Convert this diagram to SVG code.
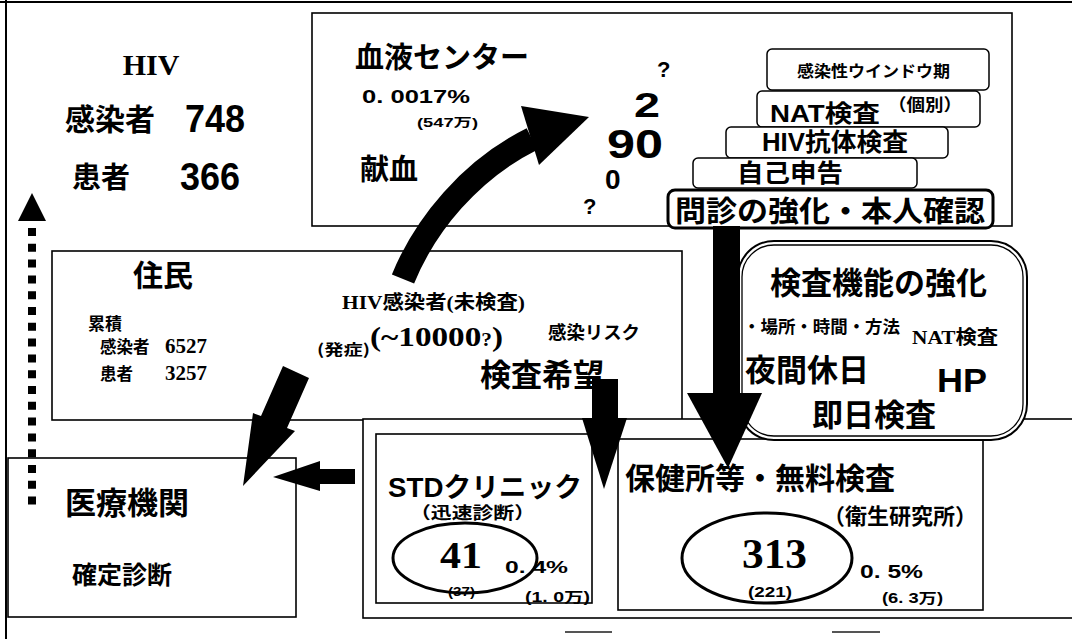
<svg xmlns="http://www.w3.org/2000/svg" width="1072" height="639" viewBox="0 0 1072 639">
<style>
.box{fill:#fff;stroke:#000;stroke-width:1.6}
.rbox{fill:#fff;stroke:#000;stroke-width:1.5}
.j{font-family:"Noto Sans CJK JP","Noto Sans CJK SC",sans-serif;font-weight:bold;fill:#000}
.s{font-family:"Liberation Sans","Noto Sans CJK JP",sans-serif;font-weight:bold;fill:#000}
.r{font-family:"Liberation Serif","Noto Sans CJK JP",serif;font-weight:bold;fill:#000}
.arw{fill:#000;stroke:none}
</style>
<rect x="0" y="0" width="1072" height="639" fill="#fff"/>
<g id="frame" stroke="#000" stroke-width="2">
<line x1="0" y1="2" x2="1072" y2="2"/>
<line x1="6" y1="0" x2="6" y2="639"/>
<line x1="565" y1="632" x2="612" y2="632" stroke="#555"/>
<line x1="832" y1="632" x2="880" y2="632" stroke="#555"/>
</g>

<g id="hiv-total">
<text class="r" x="151" y="75" font-size="30" text-anchor="middle">HIV</text>
<text class="j" x="65" y="130" font-size="30">感染者</text>
<text class="s" x="185" y="132" font-size="38" textLength="60" lengthAdjust="spacingAndGlyphs">748</text>
<text class="j" x="72" y="188" font-size="29">患者</text>
<text class="s" x="180" y="190" font-size="38" textLength="60" lengthAdjust="spacingAndGlyphs">366</text>
</g>

<g id="blood-center">
<rect class="box" x="312" y="13" width="700" height="213"/>
<text class="j" x="355" y="68" font-size="29">血液センター</text>
<text class="s" x="362" y="103" font-size="18" textLength="108" lengthAdjust="spacingAndGlyphs">0. 0017%</text>
<text class="s" x="417" y="127" font-size="12" textLength="61" lengthAdjust="spacingAndGlyphs">(547万)</text>
<text class="j" x="360" y="180" font-size="29">献血</text>
<text class="s" x="657" y="77" font-size="22">?</text>
<text class="s" x="634" y="117" font-size="35" textLength="26" lengthAdjust="spacingAndGlyphs">2</text>
<text class="s" x="607" y="158" font-size="40" textLength="56" lengthAdjust="spacingAndGlyphs">90</text>
<text class="s" x="605" y="189" font-size="28">0</text>
<text class="s" x="583" y="214" font-size="22">?</text>
</g>

<g id="window-period">
<rect class="rbox" x="767" y="49" width="222" height="41" rx="5"/>
<text class="j" x="797" y="77" font-size="16" textLength="153" lengthAdjust="spacingAndGlyphs">感染性ウインドウ期</text>
</g>
<g id="nat-test">
<rect class="rbox" x="757" y="91" width="223" height="36" rx="5"/>
<text class="s" x="770" y="122" font-size="24" textLength="110" lengthAdjust="spacingAndGlyphs">NAT検査</text>
<text class="j" x="888" y="111" font-size="17" textLength="74" lengthAdjust="spacingAndGlyphs">（個別）</text>
</g>
<g id="antibody-test">
<rect class="rbox" x="726" y="127" width="222" height="31" rx="5"/>
<text class="s" x="762" y="151" font-size="25" textLength="146" lengthAdjust="spacingAndGlyphs">HIV抗体検査</text>
</g>
<g id="self-report">
<rect class="rbox" x="693" y="158" width="224" height="30" rx="5"/>
<text class="j" x="737" y="182" font-size="25" textLength="106" lengthAdjust="spacingAndGlyphs">自己申告</text>
</g>
<g id="interview">
<rect x="668" y="190" width="325" height="38" rx="7" fill="#fff" stroke="#000" stroke-width="3"/>
<text class="j" x="675" y="222" font-size="29" textLength="310" lengthAdjust="spacingAndGlyphs">問診の強化・本人確認</text>
</g>

<g id="residents">
<rect class="box" x="52" y="251" width="630" height="169"/>
<text class="j" x="133" y="286" font-size="30">住民</text>
<text class="j" x="88" y="330" font-size="17">累積</text>
<text class="j" x="100" y="353" font-size="16.5">感染者</text>
<text class="r" x="165" y="353" font-size="22" textLength="42" lengthAdjust="spacingAndGlyphs">6527</text>
<text class="j" x="100" y="380" font-size="16.5">患者</text>
<text class="r" x="165" y="380" font-size="22" textLength="42" lengthAdjust="spacingAndGlyphs">3257</text>
<text class="r" x="342" y="309" font-size="19" textLength="183" lengthAdjust="spacingAndGlyphs">HIV感染者(未検査)</text>
<text class="j" x="317" y="355" font-size="15" textLength="53" lengthAdjust="spacingAndGlyphs">(発症)</text>
<text class="r" x="370" y="346" font-size="28" textLength="133" lengthAdjust="spacingAndGlyphs">(~10000<tspan font-size="18">?</tspan>)</text>
<text class="j" x="548" y="339" font-size="18" textLength="92" lengthAdjust="spacingAndGlyphs">感染リスク</text>
<text class="j" x="480" y="386" font-size="31">検査希望</text>
</g>

<g id="testing-container">
<rect class="box" x="363" y="419" width="720" height="199"/>
</g>

<g id="medical">
<rect class="box" x="8" y="458" width="288" height="159"/>
<text class="j" x="65" y="514" font-size="31">医療機関</text>
<text class="j" x="72" y="584" font-size="25">確定診断</text>
</g>

<g id="std-clinic">
<rect class="box" x="376" y="434" width="216" height="169"/>
<text class="s" x="388" y="497" font-size="27" textLength="194" lengthAdjust="spacingAndGlyphs">STDクリニック</text>
<text class="j" x="410" y="519" font-size="17" textLength="125" lengthAdjust="spacingAndGlyphs">（迅速診断）</text>
<text class="r" x="440" y="568" font-size="38" textLength="42" lengthAdjust="spacingAndGlyphs">41</text>
<text class="s" x="505" y="573" font-size="16" textLength="63" lengthAdjust="spacingAndGlyphs">0. 4%</text>
<text class="s" x="448" y="596" font-size="12" textLength="27" lengthAdjust="spacingAndGlyphs">(37)</text>
<text class="s" x="525" y="602" font-size="14" textLength="65" lengthAdjust="spacingAndGlyphs">(1. 0万)</text>
<ellipse cx="465" cy="558" rx="72" ry="35" fill="none" stroke="#000" stroke-width="3"/>
</g>

<g id="health-center">
<rect class="box" x="618" y="439" width="365" height="171"/>
<text class="j" x="625" y="489" font-size="30" textLength="270" lengthAdjust="spacingAndGlyphs">保健所等・無料検査</text>
<text class="j" x="823" y="524" font-size="22" textLength="154" lengthAdjust="spacingAndGlyphs">（衛生研究所）</text>
<text class="r" x="742" y="568" font-size="43" textLength="65" lengthAdjust="spacingAndGlyphs">313</text>
<text class="s" x="748" y="597" font-size="15" textLength="44" lengthAdjust="spacingAndGlyphs">(221)</text>
<text class="s" x="860" y="578" font-size="18" textLength="63" lengthAdjust="spacingAndGlyphs">0. 5%</text>
<text class="s" x="882" y="603" font-size="14" textLength="61" lengthAdjust="spacingAndGlyphs">(6. 3万)</text>
<ellipse cx="767" cy="558" rx="85" ry="45" fill="none" stroke="#000" stroke-width="3"/>
</g>

<g id="test-function">
<rect x="738" y="241" width="289" height="199" rx="36" fill="#fff" stroke="#000" stroke-width="2"/>
<rect x="742" y="245" width="281" height="191" rx="32" fill="none" stroke="#000" stroke-width="1.3"/>
<text class="j" x="770" y="294" font-size="31">検査機能の強化</text>
<text class="j" x="743" y="333" font-size="17.5" textLength="157" lengthAdjust="spacingAndGlyphs">・場所・時間・方法</text>
<text class="r" x="912" y="344" font-size="19" textLength="86" lengthAdjust="spacingAndGlyphs">NAT検査</text>
<text class="j" x="745" y="381" font-size="31">夜間休日</text>
<text class="s" x="937" y="392" font-size="33" textLength="50" lengthAdjust="spacingAndGlyphs">HP</text>
<text class="j" x="812" y="426" font-size="31">即日検査</text>
</g>

<g id="connectors">
<path d="M403 279 C425 225 470 170 532 139" fill="none" stroke="#000" stroke-width="24"/>
<polygon class="arw" points="521,106 589,117 539,165"/>
<rect class="arw" x="713" y="226" width="27" height="169"/>
<polygon class="arw" points="687,393 762,393 728,468"/>
<rect class="arw" x="592" y="379" width="26" height="41"/>
<polygon class="arw" points="582,418 627,418 604,489"/>
<polygon class="arw" points="283,366 309,378 287,428 295,431 243,486 253,413 261,416"/>
<polygon class="arw" points="355,469 320,469 320,461 273,477 320,491 320,484 355,484"/>
<line x1="32" y1="228" x2="32" y2="510" stroke="#000" stroke-width="8" stroke-dasharray="8 7.8"/>
<polygon class="arw" points="32,193 18,221 46,221"/>
</g>
</svg>
